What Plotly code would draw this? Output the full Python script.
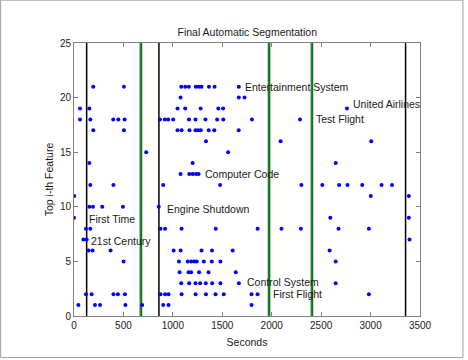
import plotly.graph_objects as go

# ---- data: features (rank 1..21) detected at times (seconds) ----
rows = {
    21: [195, 505, 1085, 1125, 1162, 1232, 1262, 1290, 1365, 1422, 1667],
    20: [1078, 1667, 1725],
    19: [61, 155, 1047, 1125, 1281, 1460, 1508, 2761],
    18: [61, 165, 397, 448, 512, 869, 919, 953, 1003, 1163, 1229, 1330, 1448, 1510, 1800, 2286],
    17: [195, 505, 1047, 1088, 1168, 1229, 1256, 1283, 1363, 1419, 1666],
    16: [1335, 2090, 3007],
    15: [730, 1559],
    14: [155, 1200, 2648],
    13: [1078, 1166, 1200, 1233, 1260],
    12: [165, 399, 902, 1478, 2300, 2512, 2682, 2766, 2916, 3111, 3217],
    11: [2, 3002, 3387],
    10: [155, 192, 286, 495, 857],
    9: [0, 2593, 3387],
    8: [121, 165, 875, 921, 1088, 1434, 1857, 2099, 2295, 2676, 2983],
    7: [95, 128, 3394],
    6: [148, 188, 370, 1008, 1079, 1290, 1396, 1605, 2586],
    5: [502, 1062, 1150, 1185, 1215, 1242, 1313, 1394, 1481, 2647],
    4: [1068, 1158, 1185, 1265, 1360, 1636],
    3: [1085, 1165, 1229, 1276, 1333, 1398, 1481, 1668, 2647],
    2: [121, 178, 399, 444, 515, 875, 921, 956, 1088, 1230, 1335, 1432, 1515, 1796, 1857, 2983],
    1: [44, 212, 263, 520, 690, 902, 956, 1796],
}
point_x = [x for r, xs in rows.items() for x in xs]
point_y = [r for r, xs in rows.items() for x in xs]

black_bounds = [128, 859, 3354]
green_bounds = [677, 1973, 2407]

label_text = ["Entertainment System", "United Airlines", "Test Flight", "Computer Code",
              "Engine Shutdown", "First Time", "21st Century", "Control System", "First Flight"]
label_x = [1705, 2800, 2430, 1300, 920, 130, 152, 1728, 1997]
label_y = [21, 19.4, 18, 13, 9.8, 8.9, 6.9, 3.15, 2]

x_ticks = [0, 500, 1000, 1500, 2000, 2500, 3000, 3500]
y_ticks = [0, 5, 10, 15, 20, 25]

FONT = "Liberation Sans, Arial, sans-serif"
W, H = 468, 360
L, R, T, B = 74, 420.5, 43.3, 316   # plot area edges in window pixels

fig = go.Figure()

# segmentation boundaries
for b in black_bounds:
    fig.add_trace(go.Scatter(x=[b, b], y=[0, 25], mode="lines",
                             line=dict(color="black", width=1.5),
                             hoverinfo="skip", showlegend=False))
for b in green_bounds:
    fig.add_trace(go.Scatter(x=[b - 8, b - 8], y=[0, 25], mode="lines",
                             line=dict(color="#303030", width=1),
                             hoverinfo="skip", showlegend=False))
    fig.add_trace(go.Scatter(x=[b + 4, b + 4], y=[0, 25], mode="lines",
                             line=dict(color="#008000", width=1.8),
                             hoverinfo="skip", showlegend=False))

fig.add_trace(go.Scatter(x=point_x, y=point_y, mode="markers",
                         marker=dict(color="#0000FF", size=4),
                         showlegend=False))

for t, x, y in zip(label_text, label_x, label_y):
    fig.add_annotation(x=x, y=y, text=t, showarrow=False, xanchor="left",
                       yanchor="middle", font=dict(family=FONT, size=10.5, color="#1a1a1a"))

# figure border
pw, ph = R - L, B - T
fig.add_shape(type="rect", xref="paper", yref="paper",
              x0=(0.5 - L) / pw, x1=(463.5 - L) / pw,
              y0=(B - 357.5) / ph, y1=(B - 0.5) / ph,
              line=dict(color="#a0a0a0", width=1))

axis_common = dict(showline=True, linecolor="#808080", linewidth=1, mirror="ticks",
                   ticks="inside", ticklen=4, tickcolor="#808080", showgrid=False,
                   zeroline=False, tickfont=dict(family=FONT, size=10, color="#222"))

fig.update_layout(
    width=W, height=H,
    margin=dict(l=L, r=W - R, t=T, b=H - B, autoexpand=False),
    paper_bgcolor="white", plot_bgcolor="white",
    title=dict(text="Final Automatic Segmentation", x=(L + R) / 2 / W, xanchor="center",
               y=1 - 32 / H, yanchor="middle",
               font=dict(family=FONT, size=10.5, color="#1a1a1a")),
    xaxis=dict(range=[0, 3500], tickvals=x_ticks,
               title=dict(text="Seconds", standoff=8, font=dict(family=FONT, size=10.5, color="#1a1a1a")),
               **axis_common),
    yaxis=dict(range=[0, 25], tickvals=y_ticks,
               title=dict(text="Top i-th Feature", standoff=4, font=dict(family=FONT, size=10.5, color="#1a1a1a")),
               **axis_common),
)

fig.write_html("out.html", config={"displayModeBar": False},
               post_script="document.body.style.margin='0';")
